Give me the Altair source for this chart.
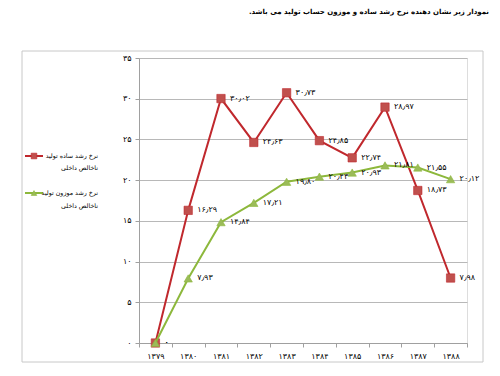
import altair as alt
import pandas as pd

years = ["۱۳۷۹", "۱۳۸۰", "۱۳۸۱", "۱۳۸۲", "۱۳۸۳", "۱۳۸۴", "۱۳۸۵", "۱۳۸۶", "۱۳۸۷", "۱۳۸۸"]
simple_growth = [0, 16.29, 30.02, 24.63, 30.73, 24.85, 22.74, 28.97, 18.73, 7.98]
weighted_growth = [0, 7.93, 14.84, 17.21, 19.80, 20.43, 20.93, 21.81, 21.55, 20.12]
y_tick_values = [0, 5, 10, 15, 20, 25, 30, 35]
y_tick_labels = ["۰", "۵", "۱۰", "۱۵", "۲۰", "۲۵", "۳۰", "۳۵"]
title_text = "نمودار زیر نشان دهنده نرخ رشد ساده و موزون  حساب تولید می باشد.\u200f"
legend_simple = ["نرخ رشد ساده تولید", "ناخالص داخلی"]
legend_weighted = ["نرخ رشد موزون تولید", "ناخالص داخلی"]

FONT = "DejaVu Sans"
RED_LINE = "#C0282D"
RED_MARK = "#C0504D"
GREEN_LINE = "#8DB83C"
GREEN_MARK = "#9BBB59"


def fa(v):
    s = "0" if v == 0 else f"{v:.2f}"
    return s.translate(str.maketrans("0123456789.", "۰۱۲۳۴۵۶۷۸۹٫"))


def series_df(vals):
    return pd.DataFrame({"year": years, "value": vals, "label": [fa(v) for v in vals]})


label_expr = "[" + ",".join(f"'{l}'" for l in y_tick_labels) + "][datum.value/5]"

x_enc = alt.X(
    "year:N", sort=years, title=None,
    scale=alt.Scale(type="band", paddingInner=0, paddingOuter=0),
    axis=alt.Axis(labelAngle=0, tickBand="extent", domainColor="#A0A0A0", tickColor="#A0A0A0",
                  tickSize=4, labelFont=FONT, labelFontSize=8, labelColor="#000000",
                  labelPadding=5, grid=False),
)
y_enc = alt.Y(
    "value:Q", title=None,
    scale=alt.Scale(domain=[0, 35], nice=False),
    axis=alt.Axis(values=y_tick_values, labelExpr=label_expr, domainColor="#A0A0A0",
                  tickColor="#A0A0A0", tickSize=4, gridColor="#B8B8B8", labelFont=FONT,
                  labelFontSize=8, labelColor="#000000", labelPadding=4),
)


def series_layers(vals, line_color, mark_color, shape, size):
    base = alt.Chart(series_df(vals))
    line = base.mark_line(color=line_color, strokeWidth=2).encode(x=x_enc, y=y_enc)
    pts = base.mark_point(shape=shape, filled=True, color=mark_color, size=size, opacity=1,
                          stroke=line_color, strokeWidth=0.6).encode(x=x_enc, y=y_enc)
    txt = base.mark_text(align="left", baseline="middle", dx=9, font=FONT, fontSize=8,
                         color="#000000").encode(x=x_enc, y=y_enc, text="label:N")
    return [line, pts, txt]


one = pd.DataFrame({"a": [0]})

frame = alt.Chart(one).mark_rect(fill=None, stroke="#C8C8C8", strokeWidth=1).encode(
    x=alt.value(-117), x2=alt.value(344), y=alt.value(-7), y2=alt.value(304))

title = alt.Chart(one).mark_text(align="right", baseline="middle", font=FONT, fontSize=7,
                                 fontWeight="bold", color="#000000").encode(
    x=alt.value(350), y=alt.value(-46), text=alt.value(title_text))


def legend_item(lines, y0, gap, line_color, mark_color, shape, size):
    rule = alt.Chart(one).mark_rule(color=line_color, strokeWidth=2).encode(
        x=alt.value(-114), x2=alt.value(-96), y=alt.value(y0))
    mk = alt.Chart(one).mark_point(shape=shape, filled=True, color=mark_color, size=size,
                                   opacity=1, stroke=line_color, strokeWidth=0.6).encode(
        x=alt.value(-105), y=alt.value(y0))
    t1 = alt.Chart(one).mark_text(align="right", baseline="middle", font=FONT, fontSize=6.3,
                                  color="#000000").encode(
        x=alt.value(-41), y=alt.value(y0), text=alt.value(lines[0]))
    t2 = alt.Chart(one).mark_text(align="right", baseline="middle", font=FONT, fontSize=6.3,
                                  color="#000000").encode(
        x=alt.value(-41), y=alt.value(y0 + gap), text=alt.value(lines[1]))
    return [rule, mk, t1, t2]


layers = [frame, title]
layers += series_layers(simple_growth, RED_LINE, RED_MARK, "square", 70)
layers += series_layers(weighted_growth, GREEN_LINE, GREEN_MARK, "triangle-up", 70)
layers += legend_item(legend_simple, 98, 12, RED_LINE, RED_MARK, "square", 32)
layers += legend_item(legend_weighted, 135, 13, GREEN_LINE, GREEN_MARK, "triangle-up", 32)

chart = alt.layer(*layers).properties(
    width=328, height=285,
    autosize=alt.AutoSizeParams(type="none"),
    padding={"left": 131, "top": 50, "right": 25, "bottom": 25},
).configure_view(stroke=None).configure(background="white")

chart.save("out.html", embed_options={"renderer": "svg", "actions": False})
